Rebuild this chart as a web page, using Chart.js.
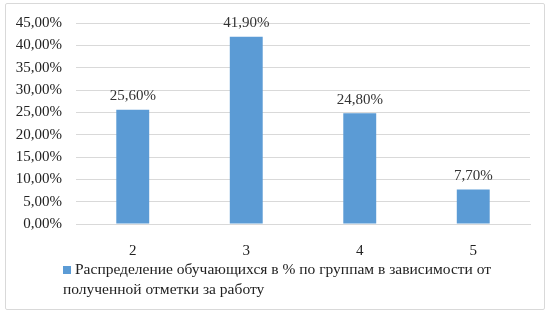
<!DOCTYPE html>
<html>
<head>
<meta charset="utf-8">
<script src="https://cdn.jsdelivr.net/npm/chart.js@4"></script>
<style>
  body { margin: 0; background: #fff; }
  #wrap { position: relative; width: 549px; height: 313px; }
  #frame { position: absolute; left: 5px; top: 3px; width: 538px; height: 305px; border: 1px solid #d9d9d9; border-radius: 2px; }
  #legend { position: absolute; left: 63px; top: 259px; width: 460px; font-family: "Liberation Serif", "Times New Roman", serif; font-size: 15.5px; line-height: 20px; color: #222; }
  #legend span.box { display: inline-block; width: 8px; height: 8px; background: #5b9bd5; margin-right: 4px; }
</style>
</head>
<body>
<div id="wrap">
  <div id="frame"></div>
  <canvas id="myChart" width="549" height="313"></canvas>
  <div id="legend"></div>
</div>
<script>
var categories = ["2", "3", "4", "5"];
var values = [25.6, 41.9, 24.8, 7.7];
var seriesName = "Распределение обучающихся в % по группам в зависимости от полученной отметки за работу";
var yTicks = [0, 5, 10, 15, 20, 25, 30, 35, 40, 45];

function fmt(v) {
    return v.toFixed(2).replace(".", ",") + "%";
}

document.getElementById("legend").innerHTML = '<span class="box"></span>' + seriesName;

var labelPlugin = {
    id: 'vals',
    afterDatasetsDraw: function (chart) {
        var ctx = chart.ctx;
        var meta = chart.getDatasetMeta(0);
        ctx.save();
        ctx.font = '15px "Liberation Serif", serif';
        ctx.fillStyle = '#333';
        ctx.textAlign = 'center';
        ctx.textBaseline = 'bottom';
        meta.data.forEach(function (bar, i) {
            ctx.fillText(fmt(values[i]), bar.x, bar.y - 6);
        });
        ctx.restore();
    }
};

Chart.defaults.font.family = '"Liberation Serif", "Times New Roman", serif';
Chart.defaults.font.size = 15;
Chart.defaults.color = '#222';

var ctx = document.getElementById("myChart").getContext('2d');
var myChart = new Chart(ctx, {
    type: 'bar',
    data: {
        labels: categories,
        datasets: [{
            label: seriesName,
            data: values,
            backgroundColor: '#5b9bd5',
            barPercentage: 0.29,
            categoryPercentage: 1
        }]
    },
    options: {
        responsive: false,
        animation: false,
        layout: { padding: { left: 5, right: 19, top: 14, bottom: 0 } },
        plugins: {
            legend: { display: false },
            tooltip: { enabled: false }
        },
        scales: {
            x: {
                grid: { display: false },
                border: { color: '#d9d9d9' },
                ticks: { padding: 10 },
                afterFit: function (s) { s.height = 89; }
            },
            y: {
                min: 0,
                max: 45,
                afterBuildTicks: function (s) { s.ticks = yTicks.map(function (v) { return { value: v }; }); },
                grid: { color: '#d9d9d9', drawTicks: false },
                border: { display: false },
                ticks: { padding: 14, callback: function (v) { return fmt(v); } },
                afterFit: function (s) { s.width = 71; }
            }
        }
    },
    plugins: [labelPlugin]
});
</script>
</body>
</html>
